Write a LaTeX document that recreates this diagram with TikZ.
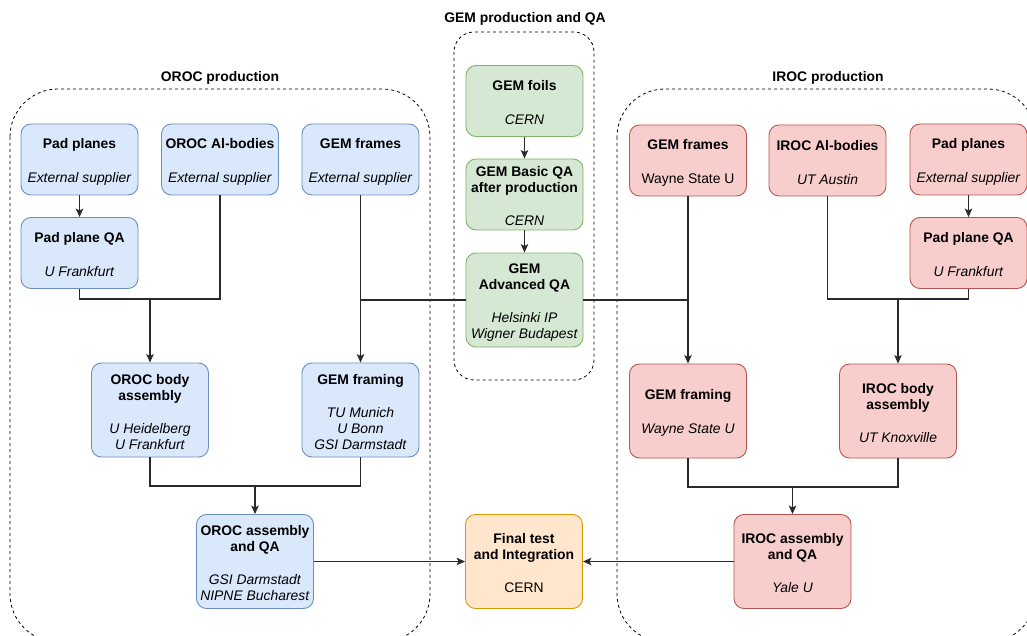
\documentclass[tikz,border=0pt]{standalone}
\usepackage{fontspec}
\setmainfont{Liberation Sans}
\usetikzlibrary{arrows.meta}
\definecolor{bfill}{HTML}{DAE8FC}\definecolor{bdraw}{HTML}{6C8EBF}
\definecolor{gfill}{HTML}{D5E8D4}\definecolor{gdraw}{HTML}{82B366}
\definecolor{rfill}{HTML}{F8CECC}\definecolor{rdraw}{HTML}{B85450}
\definecolor{ofill}{HTML}{FFE6CC}\definecolor{odraw}{HTML}{D79B00}
\definecolor{lgray}{HTML}{2A2A2A}
\newcommand\tstrut{\rule{0pt}{14pt}}
\begin{document}
\begin{tikzpicture}[x=1pt,y=-1pt,
  box/.style={draw, rounded corners=10pt, line width=0.9pt, minimum width=117pt, align=center, inner sep=0pt, font=\fontsize{13.9}{16}\selectfont},
  small/.style={minimum height=71pt},
  tall/.style={minimum height=94pt},
  orocbox/.style={box, fill=bfill, draw=bdraw},
  gembox/.style={box, fill=gfill, draw=gdraw},
  irocbox/.style={box, fill=rfill, draw=rdraw},
  finalbox/.style={box, fill=ofill, draw=odraw},
  conn/.style={line width=1.1pt, draw=lgray},
  arr/.style={conn, -{Stealth[length=8.5pt,width=7.5pt,inset=2pt]}},
  group/.style={draw=black, dash pattern=on 3pt off 3pt, line width=0.8pt},
  grouplabel/.style={font=\bfseries\fontsize{13.9}{16}\selectfont}
]
\useasboundingbox (0,0) rectangle (1027,636);
\fill[white] (0,0) rectangle (1027,636);

% groups
\draw[group, rounded corners=48pt] (10,89) rectangle (430,642);
\draw[group, rounded corners=20pt] (454,32) rectangle (594,380);
\draw[group, rounded corners=48pt] (617,89) rectangle (1036,642);
\node[grouplabel] (lo) at (220,78) {OROC production};
\node[grouplabel] (lg) at (525,19) {GEM production and QA};
\node[grouplabel] (li) at (828,78) {IROC production};

% OROC
\node[orocbox,small] (pp) at (79.5,159.5) {\tstrut\textbf{Pad planes}\\[18pt]\textit{External supplier}};
\node[orocbox,small] (alb) at (220,159.5) {\tstrut\textbf{OROC Al-bodies}\\[18pt]\textit{External supplier}};
\node[orocbox,small] (gfr) at (360.5,159.5) {\tstrut\textbf{GEM frames}\\[18pt]\textit{External supplier}};
\node[orocbox,small] (ppqa) at (79.5,253) {\tstrut\textbf{Pad plane QA}\\[18pt]\textit{U Frankfurt}};
\node[orocbox,tall] (obody) at (150,410) {\tstrut\textbf{OROC body}\\\textbf{assembly}\\[17pt]\textit{U Heidelberg}\\\textit{U Frankfurt}};
\node[orocbox,tall] (gfram) at (360.5,410) {\tstrut\textbf{GEM framing}\\[17pt]\textit{TU Munich}\\\textit{U Bonn}\\\textit{GSI Darmstadt}};
\node[orocbox,tall] (oasm) at (255,561.5) {\tstrut\textbf{OROC assembly}\\\textbf{and QA}\\[17pt]\textit{GSI Darmstadt}\\\textit{NIPNE Bucharest}};

% GEM
\node[gembox,small] (gfoil) at (524.5,101) {\tstrut\textbf{GEM foils}\\[18pt]\textit{CERN}};
\node[gembox,small] (gbasic) at (524.5,194.5) {\tstrut\textbf{GEM Basic QA}\\\textbf{after production}\\[17pt]\textit{CERN}};
\node[gembox,tall] (gadv) at (524.5,300) {\tstrut\textbf{GEM}\\\textbf{Advanced QA}\\[17pt]\textit{Helsinki IP}\\\textit{Wigner Budapest}};

% final
\node[finalbox,tall] (final) at (524,561.5) {\tstrut\textbf{Final test}\\\textbf{and Integration}\\[17pt]CERN};

% IROC
\node[irocbox,small] (igfr) at (688,160.5) {\tstrut\textbf{GEM frames}\\[18pt]Wayne State U};
\node[irocbox,small] (ialb) at (827.5,160.5) {\tstrut\textbf{IROC Al-bodies}\\[18pt]\textit{UT Austin}};
\node[irocbox,small] (ipp) at (968.5,159.5) {\tstrut\textbf{Pad planes}\\[18pt]\textit{External supplier}};
\node[irocbox,small] (ippqa) at (968.5,253) {\tstrut\textbf{Pad plane QA}\\[18pt]\textit{U Frankfurt}};
\node[irocbox,tall] (igfram) at (688,411) {\tstrut\textbf{GEM framing}\\[18pt]\textit{Wayne State U}};
\node[irocbox,tall] (ibody) at (898,411) {\tstrut\textbf{IROC body}\\\textbf{assembly}\\[17pt]\textit{UT Knoxville}};
\node[irocbox,tall] (iasm) at (792.5,561.5) {\tstrut\textbf{IROC assembly}\\\textbf{and QA}\\[17pt]\textit{Yale U}};

% junctions
\coordinate (j1) at (150,299);
\coordinate (j2) at (360.5,300);
\coordinate (j3) at (688,300);
\coordinate (j4) at (898,299);
\coordinate (j5) at (255,486);
\coordinate (j6) at (792.5,487);

% connectors
\draw[arr] (pp) -- (ppqa);
\draw[conn] (ppqa.south) |- (j1);
\draw[conn] (alb.south) |- (j1);
\draw[arr] (j1) -- (obody.north);
\draw[conn] (gfr.south) -- (j2);
\draw[conn] (gadv.west) -- (j2);
\draw[arr] (j2) -- (gfram.north);
\draw[conn] (obody.south) |- (j5);
\draw[conn] (gfram.south) |- (j5);
\draw[arr] (j5) -- (oasm.north);
\draw[arr] (oasm.east) -- (final.west);

\draw[arr] (gfoil) -- (gbasic);
\draw[arr] (gbasic) -- (gadv);

\draw[conn] (gadv.east) -- (j3);
\draw[conn] (igfr.south) -- (j3);
\draw[arr] (j3) -- (igfram.north);
\draw[arr] (ipp) -- (ippqa);
\draw[conn] (ialb.south) |- (j4);
\draw[conn] (ippqa.south) |- (j4);
\draw[arr] (j4) -- (ibody.north);
\draw[conn] (igfram.south) |- (j6);
\draw[conn] (ibody.south) |- (j6);
\draw[arr] (j6) -- (iasm.north);
\draw[arr] (iasm.west) -- (final.east);
\end{tikzpicture}
\end{document}
